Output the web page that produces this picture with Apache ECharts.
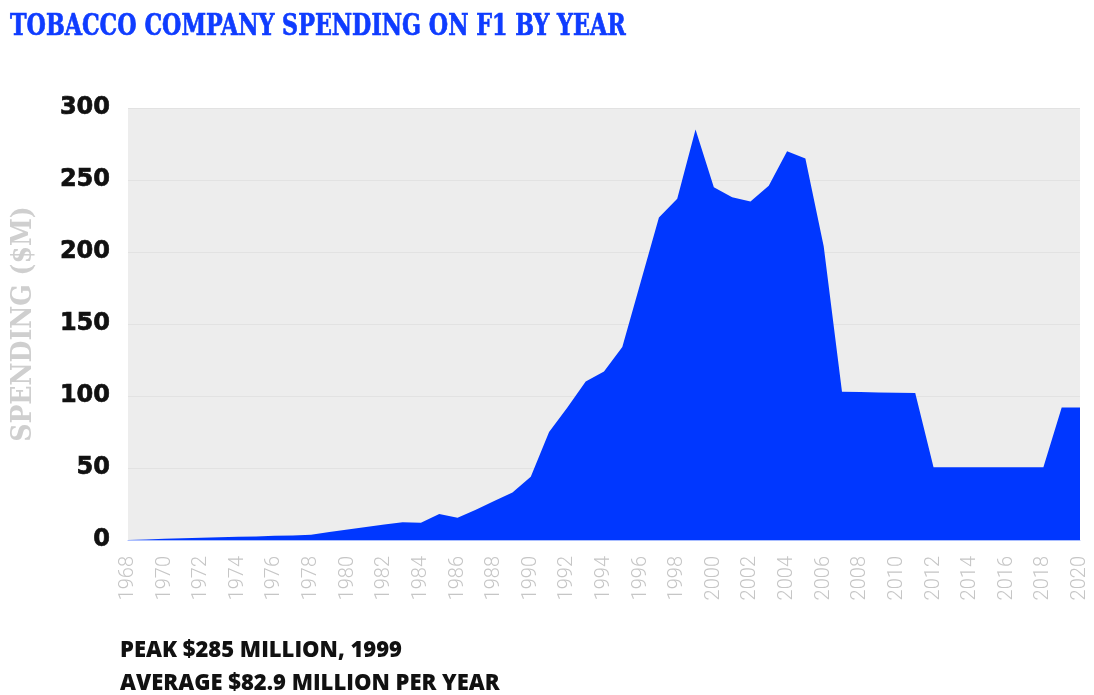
<!DOCTYPE html>
<html>
<head>
<meta charset="utf-8">
<script src="https://cdn.jsdelivr.net/npm/echarts@6/dist/echarts.min.js"></script>
<style>
html,body{margin:0;padding:0;background:#fff;}
#chart{width:1094px;height:695px;}
</style>
</head>
<body>
<div id="chart"></div>
<script>
const titleText = 'TOBACCO COMPANY SPENDING ON F1 BY YEAR';
const yAxisName = 'SPENDING ($M)';
const noteLines = ['PEAK $285 MILLION, 1999', 'AVERAGE $82.9 MILLION PER YEAR'];
const years = [];
for (let y = 1968; y <= 2020; y++) years.push(String(y));
const spending = [
  0, 0.4, 0.8, 1.2, 1.5, 1.9, 2.2, 2.5, 2.9, 3.2,      // 1968-1977
  3.6, 5.5, 7.3, 9, 10.7, 12.3, 12, 18, 15.5, 21,      // 1978-1987
  27, 33, 44, 75, 92, 110, 117, 134, 179, 224,         // 1988-1997
  237, 285, 245, 238, 235, 246, 270, 265, 204, 103,    // 1998-2007
  102.8, 102.5, 102.2, 102, 50.5, 50.5, 50.5, 50.5, 50.5, 50.5, // 2008-2017
  50.5, 92, 92                                          // 2018-2020
];
const yTicks = [0, 50, 100, 150, 200, 250, 300];

const chart = echarts.init(document.getElementById('chart'));
chart.setOption({
  animation: false,
  backgroundColor: '#ffffff',
  graphic: [
    {
      type: 'text', x: 10, y: 12, scaleX: 0.95, scaleY: 1.15,
      style: {
        text: titleText, x: 0, y: 0, textVerticalAlign: 'top',
        fontFamily: 'DejaVu Serif Condensed', fontWeight: 'bold', fontSize: 26,
        fill: '#0f3cff', stroke: '#0f3cff', lineWidth: 0.6
      }
    },
    {
      type: 'text', left: 120, top: 640,
      style: { text: noteLines[0], fontFamily: 'Open Sans', fontWeight: 800, fontSize: 22, fill: '#111' }
    },
    {
      type: 'text', left: 120, top: 673,
      style: { text: noteLines[1], fontFamily: 'Open Sans', fontWeight: 800, fontSize: 22, fill: '#111' }
    }
  ],
  grid: {
    left: 128, right: 14, top: 108, bottom: 155,
    show: true, backgroundColor: '#ededed', borderWidth: 0
  },
  xAxis: {
    type: 'category',
    data: years,
    boundaryGap: false,
    axisLine: { show: true, lineStyle: { color: '#a9bdff', width: 1 } },
    axisTick: { show: false },
    axisLabel: {
      interval: 1,
      rotate: 90,
      margin: 16,
      fontFamily: 'Roboto',
      fontWeight: 300,
      fontSize: 20,
      color: '#c6c6c6'
    },
    splitLine: { show: false }
  },
  yAxis: {
    type: 'value',
    min: yTicks[0],
    max: yTicks[yTicks.length - 1],
    interval: 50,
    name: yAxisName,
    nameLocation: 'middle',
    nameGap: 90,
    nameTextStyle: {
      fontFamily: 'DejaVu Serif Condensed',
      fontWeight: 'bold',
      fontSize: 28,
      color: '#cfcfcf'
    },
    axisLine: { show: false },
    axisTick: { show: false },
    axisLabel: {
      margin: 18,
      fontFamily: 'DejaVu Sans',
      fontWeight: 'bold',
      fontSize: 24,
      color: '#111',
      textBorderColor: '#111',
      textBorderWidth: 0.7
    },
    splitLine: { show: true, lineStyle: { color: '#e2e2e2', width: 1 } }
  },
  series: [{
    type: 'line',
    data: spending,
    showSymbol: false,
    symbol: 'none',
    lineStyle: { width: 0 },
    areaStyle: { color: '#0037ff', opacity: 1 }
  }]
});
</script>
</body>
</html>
